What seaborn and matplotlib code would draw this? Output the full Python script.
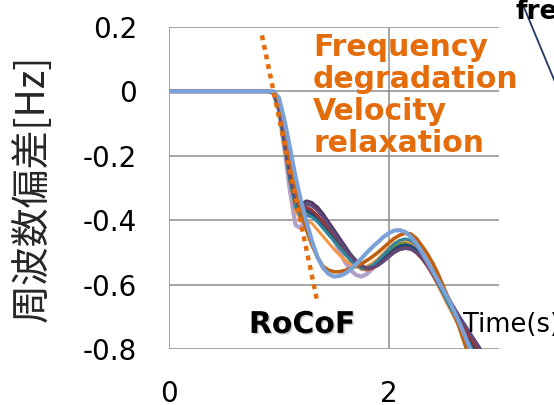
import pandas as pd
import matplotlib.pyplot as plt
import matplotlib.patheffects as pe
import seaborn as sns

# time axis shared by every run [s]
t = [0.0, 0.5, 0.9,
     0.95, 1.0, 1.05, 1.1, 1.15, 1.2, 1.25, 1.3, 1.35, 1.4,
     1.45, 1.5, 1.55, 1.6, 1.65, 1.7, 1.75, 1.8, 1.85, 1.9,
     1.95, 2.0, 2.05, 2.1, 2.15, 2.2, 2.25, 2.3, 2.35, 2.4,
     2.45, 2.5, 2.55, 2.6, 2.65, 2.7, 2.75, 2.8, 2.85, 2.9]

# frequency deviation of each simulated case [Hz]
run_b1 = [0, 0, 0,
          -0.005, -0.05, -0.15, -0.26, -0.33, -0.35, -0.34, -0.345, -0.36, -0.38,
          -0.405, -0.43, -0.455, -0.48, -0.505, -0.525, -0.54, -0.547, -0.545, -0.537,
          -0.525, -0.51, -0.497, -0.488, -0.484, -0.487, -0.498, -0.515, -0.538, -0.565,
          -0.595, -0.625, -0.655, -0.685, -0.713, -0.74, -0.766, -0.79, -0.815, -0.84]
run_b2 = [0, 0, 0,
          -0.005, -0.055, -0.16, -0.27, -0.345, -0.375, -0.37, -0.375, -0.39, -0.41,
          -0.432, -0.455, -0.478, -0.50, -0.522, -0.54, -0.552, -0.555, -0.55, -0.54,
          -0.525, -0.51, -0.495, -0.485, -0.481, -0.483, -0.493, -0.51, -0.532, -0.56,
          -0.59, -0.62, -0.65, -0.68, -0.71, -0.74, -0.77, -0.80, -0.83, -0.86]
run_b3 = [0, 0, 0,
          -0.005, -0.06, -0.165, -0.275, -0.355, -0.385, -0.38, -0.385, -0.40, -0.42,
          -0.44, -0.46, -0.483, -0.505, -0.525, -0.54, -0.55, -0.552, -0.545, -0.53,
          -0.515, -0.50, -0.484, -0.473, -0.47, -0.474, -0.487, -0.507, -0.533, -0.563,
          -0.595, -0.628, -0.66, -0.693, -0.725, -0.757, -0.788, -0.82, -0.85, -0.88]
run_b4 = [0, 0, 0,
          -0.005, -0.06, -0.17, -0.28, -0.37, -0.40, -0.40, -0.41, -0.43, -0.45,
          -0.47, -0.49, -0.508, -0.525, -0.537, -0.545, -0.547, -0.543, -0.533, -0.52,
          -0.503, -0.486, -0.472, -0.463, -0.462, -0.469, -0.485, -0.508, -0.537, -0.57,
          -0.605, -0.64, -0.673, -0.706, -0.738, -0.77, -0.802, -0.835, -0.868, -0.90]
run_b5 = [0, 0, 0,
          -0.005, -0.05, -0.16, -0.27, -0.35, -0.38, -0.37, -0.38, -0.40, -0.42,
          -0.44, -0.46, -0.48, -0.50, -0.52, -0.535, -0.545, -0.55, -0.545, -0.535,
          -0.52, -0.505, -0.49, -0.48, -0.477, -0.48, -0.492, -0.51, -0.535, -0.565,
          -0.597, -0.63, -0.662, -0.695, -0.725, -0.755, -0.785, -0.815, -0.843, -0.87]
run_b6 = [0, 0, 0,
          -0.005, -0.05, -0.15, -0.26, -0.34, -0.37, -0.36, -0.37, -0.385, -0.405,
          -0.425, -0.445, -0.468, -0.49, -0.512, -0.53, -0.545, -0.55, -0.547, -0.54,
          -0.527, -0.512, -0.498, -0.49, -0.487, -0.49, -0.502, -0.52, -0.543, -0.57,
          -0.60, -0.63, -0.66, -0.69, -0.718, -0.745, -0.772, -0.80, -0.825, -0.85]
run_b7 = [0, 0, 0,
          -0.005, -0.06, -0.17, -0.28, -0.36, -0.39, -0.385, -0.39, -0.405, -0.425,
          -0.445, -0.465, -0.485, -0.505, -0.525, -0.54, -0.548, -0.548, -0.54, -0.525,
          -0.508, -0.49, -0.473, -0.462, -0.458, -0.463, -0.478, -0.502, -0.53, -0.562,
          -0.597, -0.632, -0.667, -0.70, -0.733, -0.765, -0.797, -0.83, -0.86, -0.89]
run_b8 = [0, 0, 0,
          -0.005, -0.05, -0.155, -0.265, -0.34, -0.36, -0.35, -0.355, -0.37, -0.39,
          -0.415, -0.44, -0.463, -0.487, -0.51, -0.53, -0.543, -0.548, -0.547, -0.54,
          -0.528, -0.514, -0.50, -0.491, -0.488, -0.49, -0.50, -0.516, -0.538, -0.562,
          -0.59, -0.618, -0.647, -0.676, -0.704, -0.73, -0.757, -0.783, -0.81, -0.835]
run_lp = [0, 0, 0,
          -0.005, -0.06, -0.18, -0.31, -0.415, -0.425, -0.38, -0.357, -0.36, -0.385,
          -0.42, -0.46, -0.497, -0.53, -0.555, -0.57, -0.575, -0.567, -0.55, -0.53,
          -0.512, -0.497, -0.484, -0.476, -0.474, -0.479, -0.494, -0.515, -0.54, -0.57,
          -0.602, -0.635, -0.667, -0.70, -0.73, -0.76, -0.79, -0.82, -0.85, -0.88]
run_ob = [0, 0, 0,
          0, -0.03, -0.11, -0.21, -0.30, -0.375, -0.43, -0.478, -0.515, -0.543,
          -0.555, -0.56, -0.56, -0.556, -0.55, -0.543, -0.535, -0.525, -0.513, -0.50,
          -0.485, -0.47, -0.456, -0.446, -0.44, -0.443, -0.457, -0.48, -0.505, -0.535,
          -0.57, -0.61, -0.65, -0.695, -0.745, -0.795, -0.845, -0.895, -0.945, -0.995]
run_lb = [0, 0, 0,
          0, -0.02, -0.09, -0.175, -0.265, -0.34, -0.405, -0.465, -0.515, -0.548,
          -0.567, -0.575, -0.573, -0.566, -0.553, -0.537, -0.519, -0.50, -0.483, -0.468,
          -0.452, -0.44, -0.432, -0.431, -0.437, -0.452, -0.473, -0.50, -0.53, -0.56,
          -0.59, -0.62, -0.652, -0.688, -0.727, -0.768, -0.81, -0.85, -0.89, -0.93]

bundle_names = ['b1', 'b2', 'b3', 'b4', 'b5', 'b6', 'b7', 'b8']
bundle_colors = ['#4D3B62', '#C0504D', '#77933C', '#F79646', '#1F497D', '#953735', '#31859C', '#5F497A']

yticks = [0.2, 0, -0.2, -0.4, -0.6, -0.8]
ytick_labels = ['0.2', '0', '-0.2', '-0.4', '-0.6', '-0.8']
xticks = [0, 2]
xtick_labels = ['0', '2']

# rocof tangent (start / end)
rocof_t = [0.845, 1.345]
rocof_v = [0.174, -0.648]

bundle = pd.DataFrame({'t': t, 'b1': run_b1, 'b2': run_b2, 'b3': run_b3, 'b4': run_b4,
                       'b5': run_b5, 'b6': run_b6, 'b7': run_b7, 'b8': run_b8})
bundle = bundle.melt(id_vars='t', var_name='run', value_name='v')

sns.set_style('white')
plt.rcParams['font.family'] = ['DejaVu Sans']

fig = plt.figure(figsize=(5.54, 4.05), dpi=100)
ax = fig.add_axes([169 / 554, 56 / 405, 330 / 554, 322 / 405])

line_kw = dict(estimator=None, sort=False, solid_joinstyle='round', solid_capstyle='round')
sns.lineplot(x=t, y=run_lp, ax=ax, color='#B1A0C7', linewidth=3.0, **line_kw)
sns.lineplot(data=bundle, x='t', y='v', hue='run', hue_order=bundle_names,
             palette=dict(zip(bundle_names, bundle_colors)), ax=ax, linewidth=2.2,
             legend=False, **line_kw)
sns.lineplot(x=t, y=run_ob, ax=ax, color='#C0600F', linewidth=2.6, **line_kw)
sns.lineplot(x=t, y=run_lb, ax=ax, color='#7BA2D8', linewidth=3.0, **line_kw)

ax.plot(rocof_t, rocof_v, color='#E46C0A', linewidth=3.2, dashes=(1.1, 1.1),
        dash_capstyle='butt', zorder=5)

ax.set_xlim(0, 3)
ax.set_ylim(-0.8, 0.2)
ax.set_yticks(yticks)
ax.set_yticklabels(ytick_labels)
ax.set_xticks(xticks)
ax.set_xticklabels(xtick_labels)
ax.tick_params(axis='both', length=0, labelsize=20, colors='black')
ax.tick_params(axis='y', pad=23)
ax.tick_params(axis='x', pad=22)
ax.grid(True, color='#8C8C8C', linewidth=1.1)
ax.set_axisbelow(True)
for s in ax.spines.values():
    s.set_visible(False)
ax.set_xlabel('')

ax.set_ylabel('周波数偏差[Hz]', fontsize=28, family=['Noto Sans CJK JP', 'DejaVu Sans'])
ax.yaxis.set_label_coords(-0.412, 0.5)
ax.yaxis.label.set_verticalalignment('center')

ax.text(1.31, 0.18, 'Frequency\ndegradation\nVelocity\nrelaxation', color='#E46C0A',
        fontsize=21.5, fontweight='bold', va='top', ha='left', linespacing=1.13)
ax.text(1.21, -0.75, 'RoCoF', color='black', fontsize=21.5, fontweight='bold',
        ha='center', va='baseline', zorder=6,
        path_effects=[pe.withSimplePatchShadow(offset=(1, -1), shadow_rgbFace='gray', alpha=0.4)])
ax.text(2.67, -0.726, 'Time(s)', color='black', fontsize=18.5, ha='left', va='center',
        zorder=6, clip_on=False)

# pieces of the neighbouring annotation, cut by the figure edge
fig.text(515 / 554, 1 - 19 / 405, 'frequency', fontsize=19, fontweight='bold', color='black')
fig.add_artist(plt.Line2D([523 / 554, 560 / 554], [1 - 5 / 405, 1 - 94 / 405],
                          color='#203864', linewidth=1.3))

fig.savefig('out.png', dpi=100)
